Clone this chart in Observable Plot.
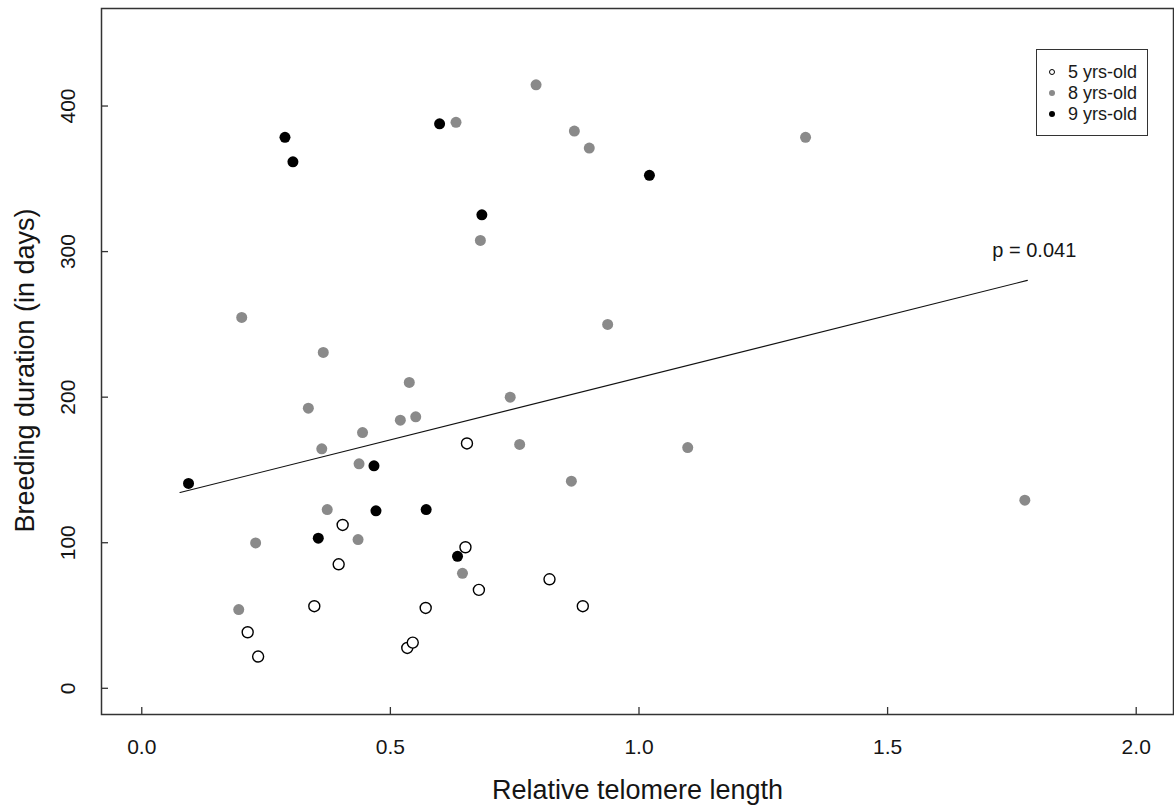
<!DOCTYPE html>
<html>
<head>
<meta charset="utf-8">
<script src="https://cdn.jsdelivr.net/npm/d3@7"></script>
<script src="https://cdn.jsdelivr.net/npm/@observablehq/plot@0.6"></script>
<style>
  html, body { margin: 0; padding: 0; background: #fff; }
  #wrap { position: relative; width: 1174px; height: 811px; font-family: "Liberation Sans", Arial, sans-serif; }
  #legend { position: absolute; left: 1036px; top: 49px; width: 110px; height: 85px; border: 1.3px solid #333; background: #fff; font-size: 18px; color: #1a1a1a; }
  #legend .row { position: absolute; left: 0; height: 20px; line-height: 20px; }
  #legend .sym { position: absolute; left: 12px; top: 7px; width: 6px; height: 6px; border-radius: 50%; box-sizing: border-box; }
  #legend .lab { position: absolute; left: 31px; top: 0; white-space: nowrap; }
</style>
</head>
<body>
<div id="wrap"></div>
<script>
// ---- data ----
const groups = ["5 yrs-old", "8 yrs-old", "9 yrs-old"];

const x5 = [0.654, 0.404, 0.396, 0.651, 0.678, 0.820, 0.347, 0.571, 0.887, 0.213, 0.234, 0.534, 0.545];
const y5 = [168.2, 112.2, 85.2, 96.9, 67.6, 74.9, 56.4, 55.2, 56.4, 38.5, 21.8, 27.7, 31.4];

const x8 = [0.632, 0.793, 0.870, 0.900, 1.335, 0.681, 0.201, 0.937, 0.365, 0.538, 0.335, 0.741, 0.520,
            0.551, 0.444, 0.362, 0.437, 0.760, 1.098, 0.864, 0.373, 0.435, 0.229, 0.645, 0.195, 1.776];
const y8 = [388.8, 414.6, 382.8, 371.1, 378.5, 307.7, 254.8, 250.0, 230.7, 210.1, 192.4, 200.0, 184.2,
            186.5, 175.7, 164.5, 154.2, 167.5, 165.4, 142.3, 122.8, 102.2, 99.9, 79.0, 54.1, 129.2];

const x9 = [0.288, 0.304, 0.599, 0.684, 1.021, 0.467, 0.094, 0.471, 0.572, 0.355, 0.635];
const y9 = [378.5, 361.7, 387.8, 325.3, 352.4, 152.8, 140.7, 121.9, 122.8, 103.1, 90.7];

// fitted regression line end points
const fitX = [0.077, 1.781];
const fitY = [134.5, 280.2];

const pLabel = ["p = 0.041"];
const pLabelX = [1.795];
const pLabelY = [301];

const xTicks = [0, 0.5, 1, 1.5, 2];
const yTicks = [0, 100, 200, 300, 400];
const xTitle = "Relative telomere length";
const yTitle = "Breeding duration (in days)";

// ---- build table ----
const pts = [];
x5.forEach((x, i) => pts.push({x, y: y5[i], g: groups[0]}));
x8.forEach((x, i) => pts.push({x, y: y8[i], g: groups[1]}));
x9.forEach((x, i) => pts.push({x, y: y9[i], g: groups[2]}));
const fit = fitX.map((x, i) => ({x, y: fitY[i]}));
const fillOf = {"5 yrs-old": "#ffffff", "8 yrs-old": "#8a8a8a", "9 yrs-old": "#000000"};
const strokeOf = {"5 yrs-old": "#000000", "8 yrs-old": "none", "9 yrs-old": "none"};

const ink = "#151515";
const chart = Plot.plot({
  width: 1174,
  height: 811,
  marginLeft: 101,
  marginTop: 8,
  marginRight: 1,
  marginBottom: 97,
  style: {fontFamily: "'Liberation Sans', Arial, sans-serif", background: "#fff"},
  x: {domain: [-0.081, 2.075], axis: null},
  y: {domain: [-18, 467], axis: null},
  marks: [
    Plot.frame({stroke: "#333", strokeWidth: 1.5}),
    Plot.ruleX(xTicks, {x: d => d, insetTop: 699, stroke: "#333", strokeWidth: 1.3}),
    Plot.ruleY(yTicks, {y: d => d, insetRight: 1065, stroke: "#333", strokeWidth: 1.3}),
    Plot.text(xTicks, {x: d => d, text: d => d3.format(".1f")(d), frameAnchor: "bottom", lineAnchor: "middle", textAnchor: "middle", dy: 33, fontSize: 21, fill: ink}),
    Plot.text(yTicks, {y: d => d, text: d => String(d), frameAnchor: "left", textAnchor: "middle", lineAnchor: "middle", dx: -33, rotate: -90, fontSize: 21, fill: ink}),
    Plot.text([xTitle], {text: d => d, frameAnchor: "bottom", lineAnchor: "middle", textAnchor: "middle", dy: 76, fontSize: 27, fill: ink}),
    Plot.text([yTitle], {text: d => d, frameAnchor: "left", textAnchor: "middle", lineAnchor: "middle", dx: -76, dy: 9, rotate: -90, fontSize: 27, fill: ink}),
    Plot.line(fit, {x: "x", y: "y", stroke: "#111", strokeWidth: 1.2}),
    Plot.text(pLabel, {x: (d, i) => pLabelX[i], y: (d, i) => pLabelY[i], text: d => d, fontSize: 20, fill: ink}),
    Plot.dot(pts, {x: "x", y: "y", r: 5.5, fill: d => fillOf[d.g], stroke: d => strokeOf[d.g], strokeWidth: 1.4})
  ]
});

const wrap = document.getElementById("wrap");
wrap.appendChild(chart);

// legend
const legend = document.createElement("div");
legend.id = "legend";
groups.forEach((g, i) => {
  const row = document.createElement("div");
  row.className = "row";
  row.style.top = (12 + i * 21.2) + "px";
  const s = document.createElement("span");
  s.className = "sym";
  s.style.background = fillOf[g];
  s.style.border = g === groups[0] ? "1.3px solid #000" : "none";
  const l = document.createElement("span");
  l.className = "lab";
  l.textContent = g;
  row.appendChild(s); row.appendChild(l);
  legend.appendChild(row);
});
wrap.appendChild(legend);
</script>
</body>
</html>
